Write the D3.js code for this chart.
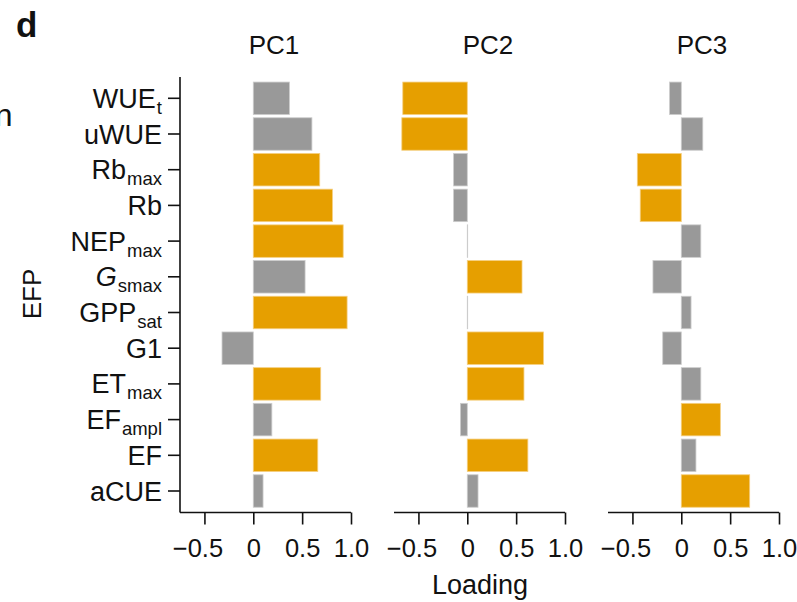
<!DOCTYPE html>
<meta charset="utf-8">
<script src="https://d3js.org/d3.v7.min.js"></script>
<style type="text/css">
  body { margin: 0; background: #fff; }
  text { font-family: "Liberation Sans", Arial, sans-serif; fill: #111; }
  .axis line, .axis path { stroke: #111; stroke-width: 1.6; fill: none; }
</style>
<body>
<script>

// EFP labels (main part, subscript part, italic main)
var efpMain = ["WUE", "uWUE", "Rb", "Rb", "NEP", "G", "GPP", "G1", "ET", "EF", "EF", "aCUE"];
var efpSub  = ["t", "", "max", "", "max", "smax", "sat", "", "max", "ampl", "", ""];
var efpItalic = [false, false, false, false, false, true, false, false, false, false, false, false];

var pcNames = ["PC1", "PC2", "PC3"];

// loadings per component
var pc1 = [0.37, 0.60, 0.68, 0.81, 0.92, 0.53, 0.96, -0.32, 0.69, 0.19, 0.66, 0.10];
var pc2 = [-0.66, -0.67, -0.14, -0.14, 0.004, 0.56, 0.004, 0.78, 0.58, -0.07, 0.62, 0.11];
var pc3 = [-0.12, 0.22, -0.45, -0.42, 0.20, -0.29, 0.10, -0.19, 0.20, 0.40, 0.15, 0.70];

// highlighted (orange) loadings
var hi1 = [0, 0, 1, 1, 1, 0, 1, 0, 1, 0, 1, 0];
var hi2 = [1, 1, 0, 0, 0, 1, 0, 1, 1, 0, 1, 0];
var hi3 = [0, 0, 1, 1, 0, 0, 0, 0, 0, 1, 0, 1];

var xTicks = [-0.5, 0, 0.5, 1.0];
var xTickLabels = ["\u22120.5", "0", "0.5", "1.0"];

var orange = "#E69F00", grey = "#999999";

var width = 797, height = 602;
var panelLeft = [180, 394, 608],
    panelWidth = 171,
    axisY = 512.5,
    axisTop = 77,
    tickLen = 12;

var svg = d3.select("body").append("svg")
    .attr("width", width)
    .attr("height", height);

var yScale = d3.scaleBand()
    .domain(d3.range(efpMain.length))
    .range([80.45, 508.85])
    .paddingInner(0.09)
    .paddingOuter(0.045);

var loadings = [pc1, pc2, pc3];
var highlights = [hi1, hi2, hi3];

loadings.forEach(function(vals, p) {
    var x0 = panelLeft[p];
    var xScale = d3.scaleLinear()
        .domain([-0.75, 1.0])
        .range([x0, x0 + panelWidth]);

    var g = svg.append("g");

    var rows = vals.map(function(v, i) { return {i: i, v: v, hi: highlights[p][i]}; });

    g.selectAll("rect")
        .data(rows)
        .enter()
        .append("rect")
            .attr("x", d => xScale(Math.min(0, d.v)))
            .attr("width", d => Math.abs(xScale(d.v) - xScale(0)))
            .attr("y", d => yScale(d.i))
            .attr("height", yScale.bandwidth())
            .style("fill", d => d.hi ? orange : grey)
            .style("stroke", d => d.hi ? "#f5cf80" : "#cccccc")
            .style("stroke-width", 0.8);

    // x axis
    var xAxis = d3.axisBottom(xScale)
        .tickValues(xTicks)
        .tickFormat((d, i) => xTickLabels[i])
        .tickSize(tickLen)
        .tickSizeOuter(0)
        .tickPadding(4);

    var xg = g.append("g")
        .attr("class", "axis")
        .attr("transform", `translate(0,${axisY})`)
        .call(xAxis);
    xg.select(".domain").remove();
    xg.append("line")
        .attr("x1", x0).attr("x2", x0 + panelWidth)
        .attr("y1", 0).attr("y2", 0);
    xg.selectAll(".tick text")
        .attr("font-family", null)
        .style("font-size", "25.5px")
        .style("fill", "#111")
        .attr("dy", null)
        .attr("dx", d => d < 0 ? -7 : 0)
        .attr("y", 44.5);

    // panel title
    svg.append("text")
        .attr("x", x0 + panelWidth / 2 + 8.5)
        .attr("y", 54)
        .style("text-anchor", "middle")
        .style("font-size", "26px")
        .text(pcNames[p]);
});

// y axis
var yg = svg.append("g").attr("class", "axis");
yg.append("line")
    .attr("x1", panelLeft[0]).attr("x2", panelLeft[0])
    .attr("y1", axisTop).attr("y2", axisY);
yg.selectAll(".ytick")
    .data(d3.range(efpMain.length))
    .enter()
    .append("line")
        .attr("x1", panelLeft[0] - tickLen).attr("x2", panelLeft[0])
        .attr("y1", i => yScale(i) + yScale.bandwidth() / 2)
        .attr("y2", i => yScale(i) + yScale.bandwidth() / 2);

var labels = svg.selectAll(".efp")
    .data(d3.range(efpMain.length))
    .enter()
    .append("text")
        .attr("class", "efp")
        .attr("x", 162)
        .attr("y", i => yScale(i) + yScale.bandwidth() / 2 + 9.5)
        .style("text-anchor", "end")
        .style("font-size", "27px");

labels.append("tspan")
    .style("font-style", i => efpItalic[i] ? "italic" : "normal")
    .text(i => efpMain[i]);
labels.filter(i => efpSub[i] !== "")
    .append("tspan")
    .attr("dy", 6)
    .attr("dx", 1)
    .style("font-size", "18.5px")
    .text(i => efpSub[i]);

// axis titles
svg.append("text")
    .attr("transform", "translate(41,294) rotate(-90)")
    .style("text-anchor", "middle")
    .style("font-size", "26px")
    .text("EFP");

svg.append("text")
    .attr("x", 480)
    .attr("y", 594)
    .style("text-anchor", "middle")
    .style("font-size", "27px")
    .text("Loading");

// panel letter and cut-off neighbour text
svg.append("text")
    .attr("x", 16)
    .attr("y", 37)
    .style("font-weight", "bold")
    .style("font-size", "35px")
    .text("d");

svg.append("text")
    .attr("x", 12.5)
    .attr("y", 126)
    .style("text-anchor", "end")
    .style("font-size", "32px")
    .text("n");

</script>
</body>
</html>
